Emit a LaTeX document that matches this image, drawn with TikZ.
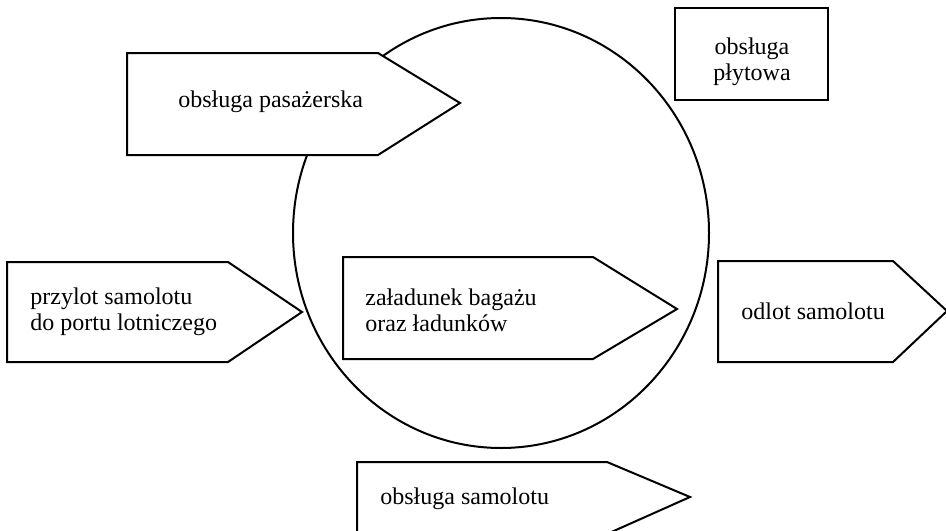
\documentclass[tikz,border=0pt]{standalone}
\usepackage{fontspec}
\setmainfont{Liberation Serif}
\usetikzlibrary{positioning}

\tikzset{
  outline/.style={draw=black, line width=1pt, fill=white, line join=miter},
  txt/.style={font=\fontsize{12}{13}\selectfont, inner sep=0pt, align=left, anchor=west},
}

\begin{document}
\begin{tikzpicture}[x=0.5pt, y=-0.5pt]
\useasboundingbox (0,0) rectangle (946,530);

% ================= CIRCLE =================
\draw[line width=1pt] (501,233) ellipse [x radius=208, y radius=215];

% ================= SIGNAL SHAPES =================
% passenger handling
\draw[outline] (127,53) -- (378,53) -- (460,103) -- (378,155) -- (127,155) -- cycle;
% arrival
\draw[outline] (7,262) -- (228,262) -- (302,312) -- (228,362) -- (7,362) -- cycle;
% loading
\draw[outline] (343,257) -- (593,257) -- (677,309) -- (593,359) -- (343,359) -- cycle;
% departure
\draw[outline] (718,261) -- (893,261) -- (947,311) -- (893,362) -- (718,362) -- cycle;
% aircraft handling
\draw[outline] (357,462) -- (607,462) -- (690,497) -- (607,534) -- (357,534) -- cycle;
% apron handling
\draw[outline] (675,8) rectangle (828,100);

% ================= LABELS =================
\node[txt] (pasaz) at (178,102) {obsługa pasażerska};
\node[txt, align=center, anchor=center] (plyta) at (752,62) {obsługa\\płytowa};
\node[txt] (przylot) at (30,312) {przylot samolotu\\do portu lotniczego};
\node[txt] (zaladunek) at (365,310) {załadunek bagażu\\oraz ładunków};
\node[txt] (odlot) at (741,311) {odlot samolotu};
\node[txt] (samolot) at (380,499) {obsługa samolotu};

\end{tikzpicture}
\end{document}
